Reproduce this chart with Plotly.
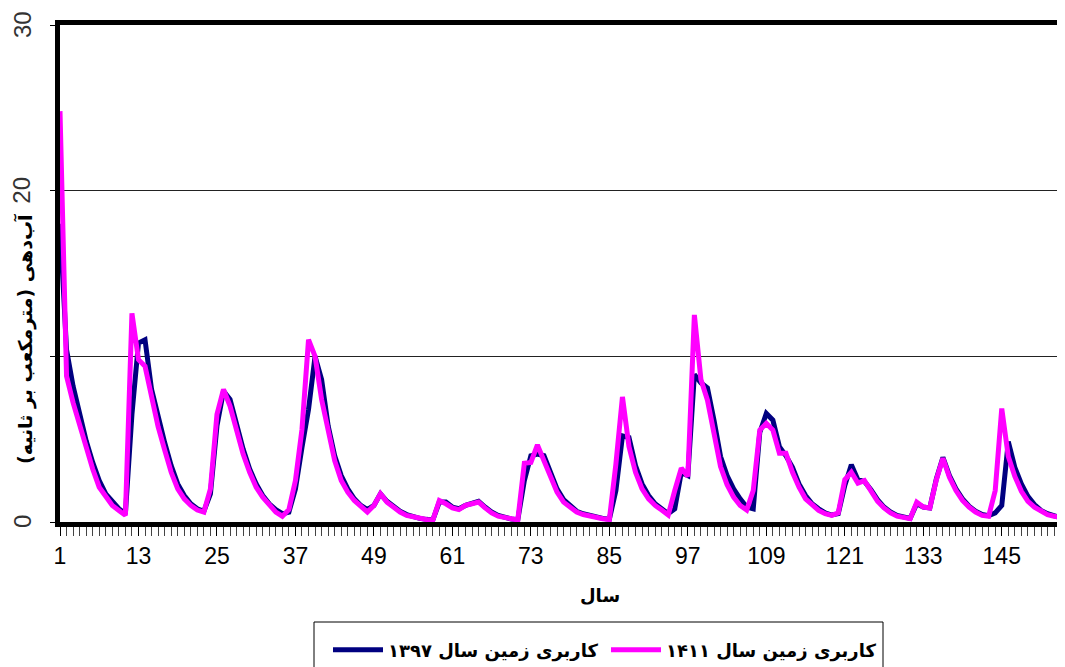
import plotly.graph_objects as go

months = list(range(1, 157))

flow_1397 = [
    18.0, 10.4, 8.2, 6.5, 4.9, 3.6, 2.5, 1.7, 1.2, 0.8, 0.5,
    6.5, 10.8, 11.0, 8.0, 6.3, 4.8, 3.4, 2.3, 1.6, 1.1, 0.8, 0.65,
    1.7, 5.8, 7.9, 7.4, 5.9, 4.4, 3.2, 2.3, 1.6, 1.1, 0.75, 0.5,
    0.6, 2.0, 4.5, 6.8, 10.0, 8.6, 5.8, 4.0, 2.8, 2.0, 1.4, 1.0, 0.75,
    1.0, 1.7, 1.25, 0.95, 0.65, 0.45, 0.32, 0.22, 0.16, 0.12,
    1.2, 1.2, 0.9, 0.8, 1.0, 1.15, 1.25, 0.9, 0.6, 0.4, 0.28, 0.18, 0.14,
    2.5, 4.0, 4.1, 4.0, 2.9, 2.0, 1.35, 0.95, 0.65, 0.5, 0.38, 0.28, 0.22, 0.17,
    1.9, 5.2, 5.1, 3.4, 2.3, 1.6, 1.1, 0.8, 0.5,
    0.8, 3.0, 2.8, 8.9, 8.4, 8.1, 6.15, 3.95, 2.8, 2.0, 1.4, 0.9,
    0.8, 5.4, 6.55, 6.15, 4.55, 4.0, 3.3, 2.3, 1.6, 1.1, 0.8, 0.55, 0.42,
    0.5, 2.2, 3.45, 2.55, 2.45, 1.95, 1.35, 0.9, 0.6, 0.4, 0.28, 0.22,
    1.1, 0.9, 0.85, 2.6, 3.9, 2.8, 2.0, 1.4, 0.95, 0.65, 0.45, 0.38,
    0.55, 1.0, 4.85, 3.3, 2.3, 1.55, 1.05, 0.7, 0.5, 0.35, 0.25, 0.2, 0.15,
]

flow_1411 = [
    24.8, 8.8, 7.2, 5.8, 4.4, 3.2, 2.1, 1.5, 1.0, 0.7, 0.4,
    12.6, 9.8, 9.4, 7.4, 5.75, 4.35, 3.0, 2.0, 1.4, 1.0, 0.72, 0.6,
    2.0, 6.5, 8.0, 7.0, 5.5, 4.1, 3.0, 2.1, 1.5, 1.0, 0.6, 0.35,
    0.75, 2.5, 5.6, 11.0, 10.0, 7.4, 5.4, 3.7, 2.5, 1.8, 1.3, 0.9, 0.6,
    1.0, 1.7, 1.2, 0.9, 0.6, 0.4, 0.3, 0.2, 0.15, 0.1,
    1.3, 1.1, 0.85, 0.75, 1.0, 1.1, 1.2, 0.85, 0.55, 0.35, 0.25, 0.15, 0.12,
    3.55, 3.6, 4.65, 3.75, 2.7, 1.8, 1.2, 0.85, 0.6, 0.45, 0.35, 0.25, 0.2, 0.15,
    3.5, 7.55, 4.55, 3.0, 2.0, 1.4, 1.0, 0.72, 0.42,
    1.9, 3.25, 2.75, 12.5, 8.6, 7.35, 5.35, 3.35, 2.25, 1.5, 1.0, 0.72,
    1.9, 5.55, 5.95, 5.55, 4.15, 4.15, 3.0, 2.1, 1.4, 1.0, 0.7, 0.5, 0.4,
    0.55, 2.55, 3.0, 2.35, 2.5, 1.85, 1.25, 0.85, 0.55, 0.35, 0.25, 0.2,
    1.2, 0.9, 0.85, 2.55, 3.85, 2.7, 1.9, 1.3, 0.9, 0.6, 0.4, 0.35,
    1.9, 6.85, 3.95, 2.75, 1.85, 1.25, 0.9, 0.65, 0.45, 0.35, 0.25, 0.2, 0.15,
]

x_tick_vals = [1, 13, 25, 37, 49, 61, 73, 85, 97, 109, 121, 133, 145]
y_tick_vals = [0, 10, 20, 30]
y_tick_text = ["0", "", "20", "30"]

name_1397 = "کاربری زمین سال ۱۳۹۷"
name_1411 = "کاربری زمین سال ۱۴۱۱"
x_title = "سال"
y_title = "آب‌دهی (مترمکعب بر ثانیه)"

# page body has an 8px default margin: size the figure so the visible window matches
OFF = 8
W, H = 1065 - OFF, 667 - OFF
PLOT_L, PLOT_T, PLOT_B = 60, 25, 522        # screen positions of plot area
L = PLOT_L - OFF
T = PLOT_T - OFF
plot_w = 1065 - PLOT_L
plot_h = PLOT_B - PLOT_T
B = H - T - plot_h


def px(sx):
    return (sx - PLOT_L) / plot_w


def py(sy):
    return (PLOT_B - sy) / plot_h


fig = go.Figure()
fig.add_trace(go.Scatter(x=months, y=flow_1397, mode="lines", name=name_1397,
                         line=dict(color="#000080", width=5)))
fig.add_trace(go.Scatter(x=months, y=flow_1411, mode="lines", name=name_1411,
                         line=dict(color="#FF00FF", width=5)))

px_per_step = 6.54
x_max = 1 + plot_w / px_per_step

annotations = [
    dict(text=x_title, xref="paper", yref="paper",
         x=px(600), y=py(595),
         xanchor="center", yanchor="middle", showarrow=False,
         font=dict(family="DejaVu Sans", size=18, color="black", weight="bold")),
    dict(text=y_title, xref="paper", yref="paper",
         x=px(25), y=py(339),
         xanchor="center", yanchor="middle", showarrow=False, textangle=-90,
         font=dict(family="DejaVu Sans", size=19, color="black", weight="bold")),
]
for v, t in zip(y_tick_vals, y_tick_text):
    if t:
        annotations.append(dict(
            text=t, xref="paper", yref="y", x=px(22), y=v,
            xanchor="center", yanchor="middle", showarrow=False, textangle=-90,
            font=dict(family="Liberation Sans", size=24, color="#333")))

fig.update_layout(
    width=W, height=H,
    margin=dict(l=L, r=0, t=T, b=B, pad=0, autoexpand=False),
    plot_bgcolor="white", paper_bgcolor="white",
    showlegend=True,
    legend=dict(
        orientation="h",
        x=px(328), xanchor="left",
        y=py(650), yanchor="middle",
        bgcolor="rgba(0,0,0,0)", borderwidth=0,
        font=dict(family="DejaVu Sans", size=18, color="black", weight="bold"),
        itemwidth=50,
        entrywidth=213,
    ),
    shapes=[
        dict(type="rect", xref="paper", yref="paper",
             x0=px(314), x1=px(883), y0=py(622), y1=py(700),
             line=dict(color="black", width=1), fillcolor="rgba(0,0,0,0)",
             layer="below"),
    ],
    xaxis=dict(
        range=[1, x_max],
        tickmode="array", tickvals=x_tick_vals,
        ticks="outside", ticklen=9, tickwidth=1, tickcolor="black",
        tickfont=dict(family="Liberation Sans", size=23, color="black"),
        showgrid=False, zeroline=False,
        showline=True, linecolor="black", linewidth=5, mirror=True,
        minor=dict(dtick=1, tick0=1, ticks="outside", ticklen=9,
                   tickwidth=1, tickcolor="#444", showgrid=False),
    ),
    yaxis=dict(
        range=[0, 30],
        tickmode="array", tickvals=y_tick_vals,
        showticklabels=False,
        ticks="outside", ticklen=5, tickwidth=1, tickcolor="black",
        showgrid=True, gridcolor="#222", gridwidth=1,
        zeroline=False,
        showline=True, linecolor="black", linewidth=5, mirror=False,
    ),
    annotations=annotations,
)

fig.write_html("out.html")
